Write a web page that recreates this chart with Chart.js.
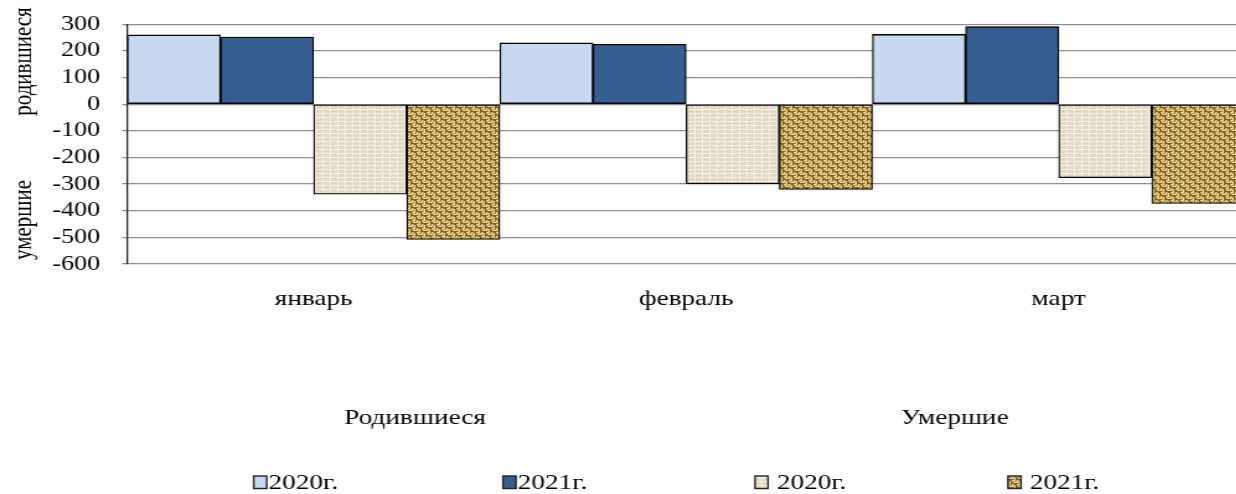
<!DOCTYPE html>
<html><head><meta charset="utf-8">
<script src="https://cdn.jsdelivr.net/npm/chart.js@4/dist/chart.umd.min.js"></script>
<style>
html,body{margin:0;padding:0;background:#fff;overflow:hidden;width:1236px;height:494px}
#wrap{position:absolute;left:0;top:0;width:1004px;height:494px;transform:scaleX(1.24);transform-origin:0 0}
canvas{display:block}
</style></head><body>
<div id="wrap"><canvas id="c" width="1004" height="494"></canvas></div>
<script>
const categories = ['январь', 'февраль', 'март'];
const born2020 = [260, 230, 262];
const born2021 = [252, 225, 291];
const died2020 = [-338, -299, -276];
const died2021 = [-508, -320, -373];
const seriesLabels = ['2020г.', '2021г.', ' 2020г.', ' 2021г.'];
const groupLabels = ['Родившиеся', 'Умершие'];
const yTitleParts = ['родившиеся', 'умершие'];
const yMin = -600, yMax = 300, yStep = 100;

const FONT = '"Liberation Serif", "Times New Roman", serif';

function linenPattern() {
  const t = document.createElement('canvas'); t.width = 12; t.height = 12;
  const g = t.getContext('2d');
  g.fillStyle = '#e3d9c4'; g.fillRect(0, 0, 12, 12);
  g.fillStyle = '#f5f0e6';
  [1, 5, 9].forEach(y => g.fillRect(0, y, 12, 1));
  [2, 8].forEach(x => g.fillRect(x, 0, 1, 12));
  g.fillStyle = '#cfc2a5';
  [[4,3],[10,7],[6,10],[0,6],[3,0],[9,2]].forEach(p => g.fillRect(p[0], p[1], 1, 1));
  return g.createPattern(t, 'repeat');
}
function burlapPattern() {
  const t = document.createElement('canvas'); t.width = 8; t.height = 8;
  const g = t.getContext('2d');
  g.fillStyle = '#7e5f2c'; g.fillRect(0, 0, 8, 8);
  const light = '#efd98f', mid = '#c09c55';
  function hcell(cx, cy) {
    g.fillStyle = light; g.fillRect(cx, cy, 3, 1); g.fillRect(cx + 1, cy + 2, 3, 1);
    g.fillStyle = mid; g.fillRect(cx, cy + 1, 4, 1);
  }
  function vcell(cx, cy) {
    g.fillStyle = light; g.fillRect(cx, cy, 1, 3); g.fillRect(cx + 2, cy + 1, 1, 3);
    g.fillStyle = mid; g.fillRect(cx + 1, cy, 1, 4);
  }
  hcell(0, 0); vcell(4, 0); vcell(0, 4); hcell(4, 4);
  return g.createPattern(t, 'repeat');
}

const colors = ['#c6d9f0', '#365f91', linenPattern(), burlapPattern()];
const values = [born2020, born2021, died2020, died2021];

const extras = {
  id: 'extras',
  afterDraw(chart) {
    const ctx = chart.ctx;
    ctx.save();
    ctx.fillStyle = '#000';
    ctx.font = '21px ' + FONT;
    ctx.textAlign = 'center';
    ctx.textBaseline = 'middle';
    [[yTitleParts[0], 61.5], [yTitleParts[1], 220]].forEach(([txt, cy]) => {
      ctx.save(); ctx.translate(19.5, cy); ctx.rotate(-Math.PI / 2);
      ctx.fillText(txt, 0, 0); ctx.restore();
    });
    ctx.font = '22px ' + FONT;
    ctx.textBaseline = 'alphabetic';
    ctx.fillText(groupLabels[0], 334.7, 424);
    ctx.fillText(groupLabels[1], 770, 424);
    const boxX = [204.6, 405.6, 608.9, 812.9];
    ctx.textAlign = 'left';
    ctx.textBaseline = 'middle';
    seriesLabels.forEach((lab, i) => {
      ctx.fillStyle = colors[i];
      ctx.fillRect(boxX[i], 476, 10.5, 12.5);
      ctx.strokeStyle = '#222'; ctx.lineWidth = 1.4;
      ctx.strokeRect(boxX[i], 476, 10.5, 12.5);
      ctx.fillStyle = '#000';
      ctx.fillText(lab, boxX[i] + 12, 483);
    });
    ctx.restore();
  }
};

new Chart(document.getElementById('c'), {
  type: 'bar',
  data: {
    labels: categories,
    datasets: values.map((v, i) => ({
      label: seriesLabels[i],
      data: v,
      backgroundColor: colors[i],
      borderColor: '#000',
      borderWidth: 1.3,
      borderSkipped: false,
      categoryPercentage: 1,
      barPercentage: 1
    }))
  },
  options: {
    responsive: false,
    animation: false,
    devicePixelRatio: 1,
    layout: { padding: { left: 0, right: 0, top: 24.3, bottom: 0 } },
    plugins: { legend: { display: false }, tooltip: { enabled: false } },
    scales: {
      x: {
        grid: { display: false },
        border: { display: false },
        ticks: { font: { family: FONT, size: 22 }, color: '#000', padding: 14 },
        afterFit(s) { s.height = 230; }
      },
      y: {
        min: yMin, max: yMax,
        ticks: { stepSize: yStep, autoSkip: false, font: { family: FONT, size: 21 }, color: '#000', padding: 18 },
        grid: { color: '#8c8c8c', lineWidth: 1.3, tickLength: 4, tickColor: '#8c8c8c' },
        border: { color: '#222', width: 1.3 },
        afterFit(s) { s.width = 102.7; s.paddingTop = 0; s.paddingBottom = 0; }
      }
    }
  },
  plugins: [extras]
});
</script>
</body></html>
